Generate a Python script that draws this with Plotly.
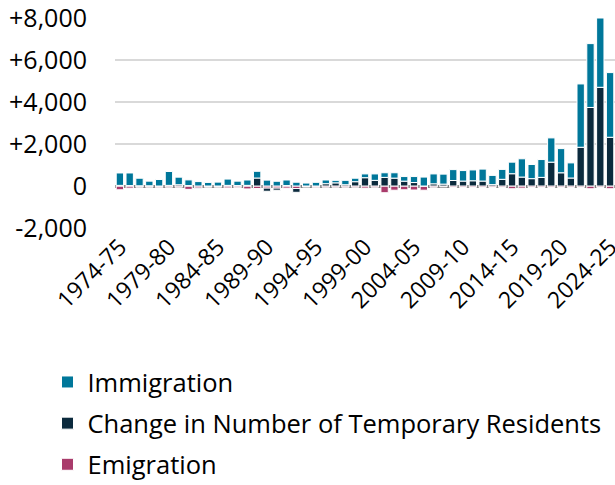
import plotly.graph_objects as go

# fiscal years 1974-75 .. 2024-25
years = [f"{y}-{str(y + 1)[-2:]}" for y in range(1974, 2025)]

temporary = [30, 20, 10, 10, 0, 30, 60, 20, -30, 0,
             0, 30, 20, 30, 380, -150, -100, 20, -180, 0,
             0, 110, 150, 60, 205, 395, 268, 410, 375, 230,
             165, 0, 105, 90, 262, 235, 250, 235, 65, 317,
             585, 425, 350, 410, 1135, 630, 380, 1845, 3740, 4700,
             2320]

totals = [620, 620, 370, 230, 310, 690, 420, 290, 210, 170,
          185, 330, 230, 285, 700, 280, 225, 285, 180, 140,
          175, 285, 270, 270, 370, 575, 575, 630, 630, 450,
          450, 425, 575, 565, 780, 735, 765, 805, 505, 790,
          1135, 1295, 1025, 1260, 2290, 1780, 1100, 4860, 6780, 8000,
          5400]

emigration = [-180, -100, -60, -60, -80, -60, -60, -160, -100, -60,
              -60, -90, -80, -140, -120, -100, -100, -100, -120, -50,
              -80, -60, -60, -60, -60, -100, -60, -320, -200, -180,
              -190, -200, -60, -40, -70, -70, -70, -70, -70, -70,
              -130, -100, -70, -70, -70, -70, -70, -70, -130, -70,
              -130]

immigration = [t - max(p, 0) for t, p in zip(totals, temporary)]

y_ticks = [-2000, 0, 2000, 4000, 6000, 8000]
y_labels = ["-2,000", "0", "+2,000", "+4,000", "+6,000", "+8,000"]
x_ticks = years[::5]

FONT = "Open Sans"
outline = dict(color="white", width=1)

fig = go.Figure()
# emigration first so it sits right under zero, temporary residents under immigration
fig.add_trace(go.Bar(x=years, y=emigration, name="Emigration", legendrank=3,
                     marker=dict(color="#a93b6b", line=outline), legendgroup="c"))
fig.add_trace(go.Bar(x=years, y=temporary, name="Change in Number of Temporary Residents",
                     legendrank=2, marker=dict(color="#0b2a3d", line=outline), legendgroup="b"))
fig.add_trace(go.Bar(x=years, y=immigration, name="Immigration", legendrank=1,
                     marker=dict(color="#00779a", line=outline), legendgroup="a"))

fig.update_layout(
    width=615, height=485,
    barmode="relative", bargap=0.25,
    plot_bgcolor="white", paper_bgcolor="white",
    margin=dict(l=115, r=0, t=18, b=257),
    font=dict(family=FONT, size=24, color="black"),
    showlegend=True,
    legend=dict(traceorder="grouped", tracegroupgap=5,
                x=-0.135, xanchor="left",
                yref="container", y=0.26, yanchor="top",
                font=dict(size=25.5)),
    xaxis=dict(type="category", tickmode="array", tickvals=x_ticks, tickangle=-45,
               showgrid=False, ticks="", automargin=False, ticklabeloverflow="allow",
               tickfont=dict(size=23)),
    yaxis=dict(range=[-2000, 8000], tickvals=y_ticks, ticktext=y_labels,
               showgrid=True, gridcolor="#d9d9d9", gridwidth=1.5,
               zeroline=True, zerolinecolor="#808080", zerolinewidth=3,
               ticks="", ticklabelstandoff=27, automargin=False,
               ticklabeloverflow="allow", tickfont=dict(size=25)),
)

# drop the default 8px body margin so the figure fills the window exactly
fig.write_html("out.html", config={"displayModeBar": False},
               post_script="document.body.style.margin='0';")
